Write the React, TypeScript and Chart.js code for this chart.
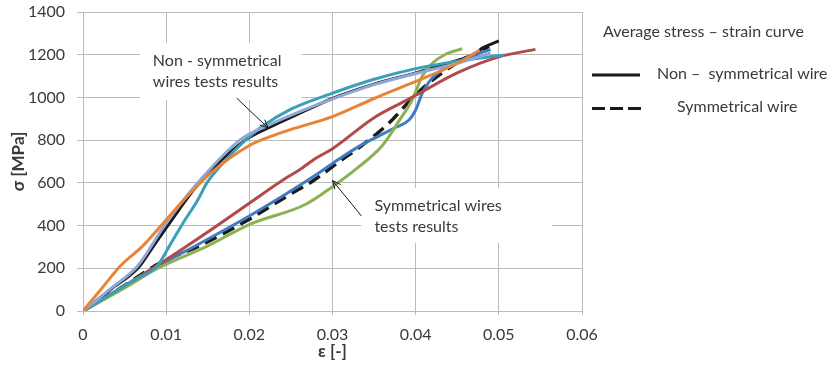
import React, { useEffect, useRef } from "react";
import { Chart, registerables } from "chart.js";

Chart.register(...registerables);

// ---- axis ticks ----
const xTickValues = [0, 0.01, 0.02, 0.03, 0.04, 0.05, 0.06];
const xTickLabels = ["0", "0.01", "0.02", "0.03", "0.04", "0.05", "0.06"];
const yTickValues = [0, 200, 400, 600, 800, 1000, 1200, 1400];
const yTickLabels = ["0", "200", "400", "600", "800", "1000", "1200", "1400"];

// ---- non-symmetrical wire tests ----
const orangeStrain = [0, 0.0023, 0.0046, 0.0072, 0.0094, 0.012, 0.0155, 0.02, 0.0224, 0.025, 0.03, 0.035, 0.04, 0.045, 0.0477];
const orangeStress = [0, 108, 215, 305, 400, 515, 650, 775, 815, 850, 910, 995, 1075, 1160, 1222];

const lavenderStrain = [0, 0.0033, 0.0066, 0.0098, 0.0138, 0.019, 0.0222, 0.026, 0.03, 0.035, 0.04, 0.045, 0.049];
const lavenderStress = [0, 104, 212, 400, 600, 805, 868, 932, 993, 1060, 1112, 1160, 1208];

const tealStrain = [0, 0.003, 0.006, 0.0089, 0.0104, 0.012, 0.0138, 0.0149, 0.017, 0.0194, 0.0214, 0.025, 0.03, 0.035, 0.04, 0.045, 0.0506];
const tealStress = [0, 70, 142, 210, 305, 410, 520, 600, 700, 795, 860, 945, 1020, 1085, 1135, 1170, 1199];

// ---- symmetrical wire tests ----
const redStrain = [0, 0.005, 0.009, 0.015, 0.02, 0.0245, 0.026, 0.028, 0.03, 0.035, 0.0388, 0.04, 0.045, 0.05, 0.0544];
const redStress = [0, 118, 215, 370, 505, 625, 660, 715, 760, 905, 985, 1010, 1115, 1190, 1225];

const blueStrain = [0, 0.0045, 0.009, 0.014, 0.02, 0.0244, 0.0278, 0.0308, 0.0336, 0.0356, 0.0375, 0.0392, 0.04, 0.0408, 0.042, 0.0456, 0.049];
const blueStress = [0, 104, 210, 315, 445, 548, 632, 712, 780, 820, 858, 894, 941, 1020, 1091, 1175, 1225];

const greenStrain = [0, 0.005, 0.009, 0.015, 0.02, 0.0268, 0.03, 0.033, 0.036, 0.038, 0.0396, 0.0408, 0.042, 0.0435, 0.0456];
const greenStress = [0, 108, 200, 305, 405, 500, 582, 670, 775, 890, 990, 1100, 1160, 1200, 1228];

// ---- average curves ----
const avgNonSymStrain = [0, 0.0034, 0.0067, 0.0085, 0.0102, 0.014, 0.0195, 0.0224, 0.026, 0.03, 0.035, 0.04, 0.0456, 0.0468, 0.0474, 0.0478, 0.0485, 0.05];
const avgNonSymStress = [0, 103, 205, 305, 400, 600, 800, 860, 925, 995, 1062, 1115, 1180, 1195, 1200, 1225, 1240, 1265];

const avgSymStrain = [0, 0.0047, 0.0094, 0.014, 0.02, 0.0244, 0.0278, 0.0308, 0.0336, 0.0368, 0.0392, 0.0413, 0.044, 0.046, 0.0476, 0.0488];
const avgSymStress = [0, 112, 228, 305, 430, 535, 613, 699, 777, 880, 980, 1058, 1138, 1185, 1208, 1240];

// ---- annotations (data units) ----
const annotBoxes = [
  { x1: 0.00684, x2: 0.02628, y1: 1255, y2: 990 },
  { x1: 0.03348, x2: 0.0564, y1: 576, y2: 318 },
];
const annotTexts = [
  { x: 0.0084, y: 1170, text: "Non - symmetrical" },
  { x: 0.0084, y: 1072, text: "wires tests results" },
  { x: 0.03504, y: 493, text: "Symmetrical wires" },
  { x: 0.03504, y: 395, text: "tests results" },
];
const annotArrows = [
  { x1: 0.01848, y1: 997, x2: 0.02226, y2: 857 },
  { x1: 0.03348, y1: 445, x2: 0.03, y2: 611 },
];
const legendTitle = "Average stress \u2013 strain curve";
const legendItems = ["Non \u2013  symmetrical wire", "Symmetrical wire"];

const FONT = "Lato, 'Open Sans', sans-serif";
const TEXT_COLOR = "#3a3a3a";
const GRID_COLOR = "#bcbcbc";

function pts(xs: number[], ys: number[]) {
  return xs.map((x, i) => ({ x, y: ys[i] }));
}

function drawArrow(ctx: CanvasRenderingContext2D, x1: number, y1: number, x2: number, y2: number) {
  ctx.beginPath();
  ctx.moveTo(x1, y1);
  ctx.lineTo(x2, y2);
  ctx.stroke();
  const ang = Math.atan2(y2 - y1, x2 - x1);
  const len = 9;
  const spread = 0.42;
  ctx.beginPath();
  ctx.moveTo(x2 - len * Math.cos(ang - spread), y2 - len * Math.sin(ang - spread));
  ctx.lineTo(x2, y2);
  ctx.lineTo(x2 - len * Math.cos(ang + spread), y2 - len * Math.sin(ang + spread));
  ctx.stroke();
}

const annotationPlugin = {
  id: "annotations",
  beforeDatasetsDraw(chart: any) {
    const { ctx, scales } = chart;
    const xs = scales.x;
    const ys = scales.y;
    ctx.save();
    ctx.fillStyle = "#ffffff";
    for (const b of annotBoxes) {
      const px1 = xs.getPixelForValue(b.x1);
      const px2 = xs.getPixelForValue(b.x2);
      const py1 = ys.getPixelForValue(b.y1);
      const py2 = ys.getPixelForValue(b.y2);
      ctx.fillRect(px1, py1, px2 - px1, py2 - py1);
    }
    ctx.restore();
  },
  afterDatasetsDraw(chart: any) {
    const { ctx, scales, chartArea } = chart;
    const xs = scales.x;
    const ys = scales.y;
    ctx.save();
    ctx.fillStyle = TEXT_COLOR;
    ctx.font = `16px ${FONT}`;
    ctx.textBaseline = "middle";
    ctx.textAlign = "left";
    for (const t of annotTexts) {
      ctx.fillText(t.text, xs.getPixelForValue(t.x), ys.getPixelForValue(t.y));
    }
    ctx.strokeStyle = "#1a1a1a";
    ctx.lineWidth = 1;
    for (const a of annotArrows) {
      drawArrow(
        ctx,
        xs.getPixelForValue(a.x1),
        ys.getPixelForValue(a.y1),
        xs.getPixelForValue(a.x2),
        ys.getPixelForValue(a.y2)
      );
    }
    // legend on the right
    const lx = chartArea.right;
    ctx.font = `16px ${FONT}`;
    ctx.fillText(legendTitle, lx + 21, 32);
    ctx.fillText(legendItems[0], lx + 75, 74);
    ctx.fillText(legendItems[1], lx + 95, 107);
    ctx.strokeStyle = "#1a1a1a";
    ctx.lineWidth = 3;
    ctx.beginPath();
    ctx.moveTo(lx + 10, 75);
    ctx.lineTo(lx + 58, 75);
    ctx.stroke();
    ctx.setLineDash([13, 5]);
    ctx.beginPath();
    ctx.moveTo(lx + 10, 108.5);
    ctx.lineTo(lx + 59, 108.5);
    ctx.stroke();
    ctx.restore();
  },
};

export default function App() {
  const canvasRef = useRef<HTMLCanvasElement | null>(null);

  useEffect(() => {
    const canvas = canvasRef.current;
    if (!canvas) return;
    const line = (label: string, xs: number[], ys: number[], color: string, dash: number[] = [], width = 3) => ({
      label,
      data: pts(xs, ys),
      borderColor: color,
      backgroundColor: color,
      borderWidth: width,
      borderDash: dash,
      pointRadius: 0,
      showLine: true,
      fill: false,
      cubicInterpolationMode: "monotone" as const,
    });
    const chart = new Chart(canvas, {
      type: "scatter",
      data: {
        datasets: [
          line("Non-symmetrical test 1", orangeStrain, orangeStress, "#e8843a"),
          line("Non-symmetrical test 2", lavenderStrain, lavenderStress, "#8ea8d6"),
          line("Non-symmetrical test 3", tealStrain, tealStress, "#3aa0b9"),
          line("Symmetrical test 1", redStrain, redStress, "#b24a4a"),
          line("Symmetrical test 2", greenStrain, greenStress, "#8cb152"),
          line("Symmetrical test 3", blueStrain, blueStress, "#3f7cc0"),
          line("Non \u2013 symmetrical wire", avgNonSymStrain, avgNonSymStress, "#1a1a1a"),
          line("Symmetrical wire", avgSymStrain, avgSymStress, "#1a1a1a", [13, 7], 3.5),
        ],
      },
      options: {
        responsive: false,
        animation: false,
        events: [],
        layout: { padding: { top: 12, right: 251, left: 0, bottom: 0 } },
        plugins: {
          legend: { display: false },
          tooltip: { enabled: false },
        },
        scales: {
          x: {
            type: "linear",
            min: 0,
            max: 0.06,
            afterBuildTicks: (s: any) => {
              s.ticks = xTickValues.map((v) => ({ value: v }));
            },
            afterFit: (s: any) => {
              s.height = 62;
              s.paddingLeft = 0;
              s.paddingRight = 0;
            },
            ticks: {
              callback: (_v: any, i: number) => xTickLabels[i],
              color: TEXT_COLOR,
              font: { family: FONT, size: 16 },
              padding: 10,
              maxRotation: 0,
            },
            grid: { color: GRID_COLOR, lineWidth: 1, tickLength: 4 },
            border: { color: GRID_COLOR },
            title: {
              display: true,
              text: "\u03b5 [-]",
              color: TEXT_COLOR,
              font: { family: FONT, size: 17, weight: "bold" },
              padding: { top: 0, bottom: 11 },
            },
          },
          y: {
            type: "linear",
            min: 0,
            max: 1400,
            afterBuildTicks: (s: any) => {
              s.ticks = yTickValues.map((v) => ({ value: v }));
            },
            afterFit: (s: any) => {
              s.width = 83;
              s.paddingTop = 0;
              s.paddingBottom = 0;
            },
            ticks: {
              callback: (_v: any, i: number) => yTickLabels[i],
              color: TEXT_COLOR,
              font: { family: FONT, size: 16 },
              padding: 12,
            },
            grid: { color: GRID_COLOR, lineWidth: 1, tickLength: 6 },
            border: { color: GRID_COLOR },
            title: {
              display: true,
              text: "\u03c3 [MPa]",
              color: TEXT_COLOR,
              font: { family: FONT, size: 17, weight: "bold" },
              padding: { top: 8, bottom: 0 },
            },
          },
        },
      },
      plugins: [annotationPlugin],
    });
    return () => chart.destroy();
  }, []);

  return (
    <div style={{ position: "absolute", left: 0, top: 0, width: 833, height: 373, background: "#fff" }}>
      <canvas ref={canvasRef} width={833} height={373} style={{ display: "block" }} />
    </div>
  );
}
